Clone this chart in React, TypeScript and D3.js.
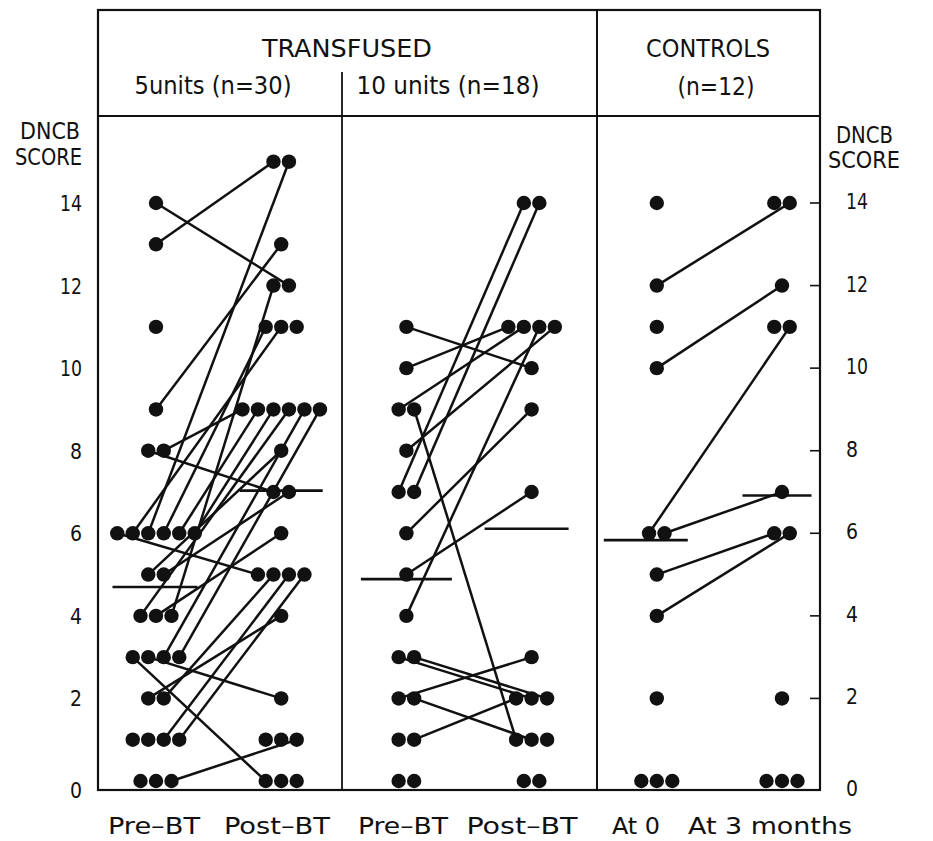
import React from "react";
import * as d3 from "d3";

// ---------- data ----------
const columnKeys = ["t5-pre", "t5-post", "t10-pre", "t10-post", "c-0", "c-3"];
const columnLabels = ["Pre–BT", "Post–BT", "Pre–BT", "Post–BT", "At 0", "At 3 months"];
const groupTitles = ["TRANSFUSED", "CONTROLS"];
const subTitles = ["5units (n=30)", "10 units (n=18)", "(n=12)"];
const yTicks = [0, 2, 4, 6, 8, 10, 12, 14];
const axisTitle = ["DNCB", "SCORE"];

// 5 units: DNCB scores before / after transfusion (order = left-to-right within ties)
const pre5 = [14, 13, 11, 9, 8, 8, 6, 6, 6, 6, 6, 6, 5, 5, 4, 4, 4, 3, 3, 3, 3, 2, 2, 1, 1, 1, 1, 0, 0, 0];
const post5 = [15, 15, 13, 12, 12, 11, 11, 11, 9, 9, 9, 9, 9, 9, 8, 7, 7, 6, 5, 5, 5, 5, 4, 2, 1, 1, 1, 0, 0, 0];
const links5 = [
  [0, 4], [1, 0], [3, 2], [4, 15], [5, 8], [6, 18], [7, 6], [8, 1], [9, 5], [10, 9], [11, 10],
  [12, 14], [13, 16], [14, 11], [15, 17], [16, 3], [17, 27], [18, 23], [19, 12], [20, 13],
  [21, 22], [22, 19], [25, 20], [26, 21], [29, 26],
];

// 10 units
const pre10 = [11, 10, 9, 9, 8, 7, 7, 6, 5, 4, 3, 3, 2, 2, 1, 1, 0, 0];
const post10 = [14, 14, 11, 11, 11, 11, 10, 9, 7, 3, 2, 2, 2, 1, 1, 1, 0, 0];
const links10 = [
  [0, 6], [1, 2], [2, 3], [3, 13], [4, 5], [5, 0], [6, 1], [7, 7], [8, 8], [9, 4],
  [10, 11], [11, 12], [12, 9], [13, 14], [15, 10],
];

// Controls
const preC = [14, 12, 11, 10, 6, 6, 5, 4, 2, 0, 0, 0];
const postC = [14, 14, 12, 11, 11, 7, 6, 6, 2, 0, 0, 0];
const linksC = [[1, 1], [3, 2], [4, 4], [5, 5], [6, 6], [7, 7]];

// ---------- layout ----------
const W = 933;
const H = 841;
const FL = 98, FR = 820, FT = 10, FB = 790, HB = 116;
const DIV1 = 342, DIV2 = 597;
const SP = 15.5;
const R = 7.2;
const FONT = "'Liberation Sans Narrow','DejaVu Sans Condensed','Liberation Sans',Arial,sans-serif";

const y = d3.scaleLinear().domain([0, 14]).range([781, 203]);
const x = d3.scalePoint<string>().domain(columnKeys).range([156, 782]);

// mean-bar placement per column: [offset from column centre, half width]
const meanBar: Record<string, [number, number]> = {
  "t5-pre": [-1, 42.5],
  "t5-post": [0, 41.5],
  "t10-pre": [0, 45.5],
  "t10-post": [-5, 42],
  "c-0": [-11, 42],
  "c-3": [-5, 34.5],
};

function layout(vals: number[], cx: number) {
  const counts = d3.rollup(vals, (v) => v.length, (d) => d);
  const seen = new Map<number, number>();
  return vals.map((v) => {
    const k = counts.get(v) as number;
    const s = seen.get(v) ?? 0;
    seen.set(v, s + 1);
    return { x: cx + (s - (k - 1) / 2) * SP, y: y(v) };
  });
}

const panels = [
  { pre: pre5, post: post5, links: links5, a: columnKeys[0], b: columnKeys[1] },
  { pre: pre10, post: post10, links: links10, a: columnKeys[2], b: columnKeys[3] },
  { pre: preC, post: postC, links: linksC, a: columnKeys[4], b: columnKeys[5] },
];

const bottomLabelPos = [
  { cx: 154, w: 92 }, { cx: 277, w: 106 }, { cx: 403, w: 90 },
  { cx: 522, w: 111 }, { cx: 636, w: 48 }, { cx: 770, w: 164 },
];

function T(props: any) {
  const { children, ...rest } = props;
  return (
    <text fontFamily={FONT} fill="#111" lengthAdjust="spacingAndGlyphs" {...rest}>
      {children}
    </text>
  );
}

export default function App() {
  const stroke = "#111";
  return (
    <svg width={W} height={H} style={{ position: "absolute", left: 0, top: 0, background: "#fff" }}>
      <rect x={0} y={0} width={W} height={H} fill="#fff" />
      {/* frame */}
      <rect x={FL} y={FT} width={FR - FL} height={FB - FT} fill="none" stroke={stroke} strokeWidth={2.2} />
      <line x1={FL} x2={FR} y1={HB} y2={HB} stroke={stroke} strokeWidth={2} />
      <line x1={DIV2} x2={DIV2} y1={FT} y2={FB} stroke={stroke} strokeWidth={2} />
      <line x1={DIV1} x2={DIV1} y1={72} y2={FB} stroke={stroke} strokeWidth={1.8} />

      {/* header texts */}
      <T x={347} y={57} fontSize={25} textAnchor="middle" textLength={170}>{groupTitles[0]}</T>
      <T x={708} y={57} fontSize={25} textAnchor="middle" textLength={124}>{groupTitles[1]}</T>
      <T x={213} y={94} fontSize={25} textAnchor="middle" textLength={157}>{subTitles[0]}</T>
      <T x={448} y={94} fontSize={25} textAnchor="middle" textLength={183}>{subTitles[1]}</T>
      <T x={716} y={95} fontSize={25} textAnchor="middle" textLength={77}>{subTitles[2]}</T>

      {/* axis titles */}
      <T x={50} y={139} fontSize={23} textAnchor="middle" textLength={60}>{axisTitle[0]}</T>
      <T x={48.5} y={165} fontSize={23} textAnchor="middle" textLength={67}>{axisTitle[1]}</T>
      <T x={864.5} y={143} fontSize={23} textAnchor="middle" textLength={57}>{axisTitle[0]}</T>
      <T x={864} y={168} fontSize={23} textAnchor="middle" textLength={72}>{axisTitle[1]}</T>

      {/* y ticks & labels */}
      {yTicks.map((t) => {
        const ty = t === 0 ? FB : y(t);
        const w = String(t).length === 2 ? 22 : 12;
        return (
          <g key={t}>
            {t > 0 && <line x1={FR - 10} x2={FR} y1={ty} y2={ty} stroke={stroke} strokeWidth={1.6} />}
            <T x={82} y={ty + 8} fontSize={22} textAnchor="end" textLength={w}>{t}</T>
            <T x={846} y={ty + 6} fontSize={22} textAnchor="start" textLength={w}>{t}</T>
          </g>
        );
      })}

      {/* bottom labels */}
      {columnLabels.map((lab, i) => (
        <T key={i} x={bottomLabelPos[i].cx} y={834} fontSize={23} textAnchor="middle" textLength={bottomLabelPos[i].w}>
          {lab}
        </T>
      ))}

      {/* panels */}
      {panels.map((p, pi) => {
        const ca = x(p.a) as number;
        const cb = x(p.b) as number;
        const A = layout(p.pre, ca);
        const B = layout(p.post, cb);
        const mA = d3.mean(p.pre) as number;
        const mB = d3.mean(p.post) as number;
        const [oa, ha] = meanBar[p.a];
        const [ob, hb] = meanBar[p.b];
        return (
          <g key={pi}>
            {p.links.map(([i, j], k) => (
              <line key={k} x1={A[i].x} y1={A[i].y} x2={B[j].x} y2={B[j].y} stroke={stroke} strokeWidth={2.5} />
            ))}
            <line x1={ca + oa - ha} x2={ca + oa + ha} y1={y(mA)} y2={y(mA)} stroke={stroke} strokeWidth={2.6} />
            <line x1={cb + ob - hb} x2={cb + ob + hb} y1={y(mB)} y2={y(mB)} stroke={stroke} strokeWidth={2.6} />
            {A.map((d, k) => <circle key={"a" + k} cx={d.x} cy={d.y} r={R} fill={stroke} />)}
            {B.map((d, k) => <circle key={"b" + k} cx={d.x} cy={d.y} r={R} fill={stroke} />)}
          </g>
        );
      })}
    </svg>
  );
}
